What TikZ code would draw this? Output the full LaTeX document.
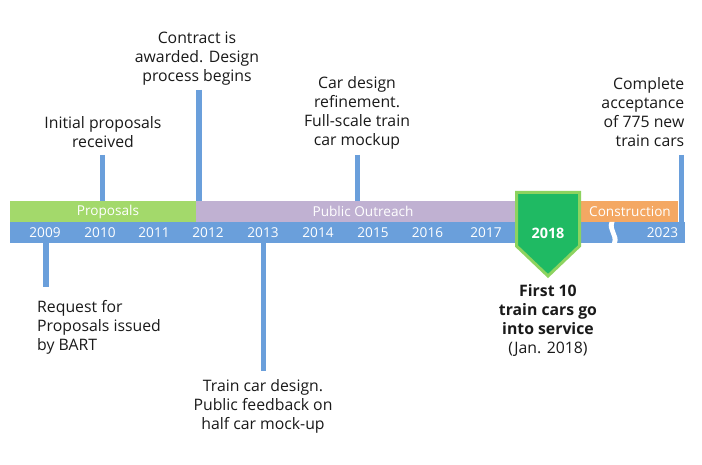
\documentclass[tikz,border=0pt]{standalone}
\usepackage{fontspec}
\setmainfont{Open Sans}
\definecolor{tlblue}{HTML}{6A9FDB}
\definecolor{tlgreen}{HTML}{A3D96B}
\definecolor{tlpurple}{HTML}{C0B1D2}
\definecolor{tlorange}{HTML}{F4A863}
\definecolor{pentfill}{HTML}{1FBA63}
\definecolor{pentedge}{HTML}{8DD35F}
\definecolor{txt}{HTML}{1A1A1A}
\begin{document}
\begin{tikzpicture}[x=1pt,y=-1pt,
  tickline/.style={draw=tlblue,line width=5.5pt},
  evlabel/.style={font=\fontsize{15.8}{19}\selectfont,text=txt,inner sep=0pt},
  barlabel/.style={font=\fontsize{13.6}{15}\selectfont,text=white,inner sep=0pt},
  yearlabel/.style={font=\fontsize{13.6}{15}\selectfont,text=white,inner sep=0pt}]
\useasboundingbox[fill=white] (0,0) rectangle (702,465);
% bars
\fill[tlgreen] (10,201) rectangle (196,222);
\fill[tlpurple] (196,201) rectangle (515,222);
\fill[tlorange] (581,201) rectangle (678,222);
\fill[tlblue] (10,222) rectangle (685,243);
% break mark
\fill[white] (609.5,222) .. controls (606,230) and (615,235) .. (612,243)
  -- (617,243) .. controls (620,235) and (611,230) .. (614.5,222) -- cycle;
% bar labels
\node[barlabel] (lprop) at (108,211.5) {Proposals};
\node[barlabel] (lpub) at (363,211.5) {Public Outreach};
\node[barlabel] (lcons) at (630,211.5) {Construction};
% years
\node[yearlabel] (y09) at (45,233) {2009};
\node[yearlabel] (y10) at (100,233) {2010};
\node[yearlabel] (y11) at (154,233) {2011};
\node[yearlabel] (y12) at (208,233) {2012};
\node[yearlabel] (y13) at (263,233) {2013};
\node[yearlabel] (y14) at (318,233) {2014};
\node[yearlabel] (y15) at (373,233) {2015};
\node[yearlabel] (y16) at (427.5,233) {2016};
\node[yearlabel] (y17) at (486,233) {2017};
\node[yearlabel] (y23) at (662.5,233) {2023};
% pentagon
\draw[draw=pentedge,fill=pentfill,line width=3pt,line join=miter]
  (516.5,192.5) -- (579.5,192.5) -- (579.5,246) -- (548,276) -- (516.5,246) -- cycle;
\node[font=\fontsize{14.4}{15}\selectfont\bfseries,text=white,inner sep=0pt] (y18) at (548,233) {2018};
% tick endpoints
\coordinate (t10a) at (102.5,155); \coordinate (t10b) at (102.5,201);
\coordinate (t12a) at (199,90);    \coordinate (t12b) at (199,201);
\coordinate (t15a) at (357.5,155); \coordinate (t15b) at (357.5,201);
\coordinate (t23a) at (681.5,155); \coordinate (t23b) at (681.5,243);
\coordinate (t09a) at (46,243);    \coordinate (t09b) at (46,287);
\coordinate (t13a) at (263.5,243); \coordinate (t13b) at (263.5,371);
\draw[tickline] (t10a) -- (t10b);
\draw[tickline] (t12a) -- (t12b);
\draw[tickline] (t15a) -- (t15b);
\draw[tickline] (t23a) -- (t23b);
\draw[tickline] (t09a) -- (t09b);
\draw[tickline] (t13a) -- (t13b);
% event labels
\node[evlabel,align=center] (e10) at (103,132) {Initial proposals\\received};
\node[evlabel,align=center] (e12) at (197,58.5) {Contract is\\awarded. Design\\process begins};
\node[evlabel,align=center] (e15) at (357,112.5) {Car design\\refinement.\\Full-scale train\\car mockup};
\node[evlabel,align=right,anchor=east] (e23) at (684.5,112.5) {Complete\\acceptance\\of 775 new\\train cars};
\node[evlabel,align=left,anchor=west] (e09) at (37,327) {Request for\\Proposals issued\\by BART};
\node[evlabel,align=center] (e13) at (263,406.5) {Train car design.\\Public feedback on\\half car mock-up};
\node[evlabel,align=center] (e18) at (548,320.5) {\bfseries First 10\\\bfseries train cars go\\\bfseries into service\\(Jan. 2018)};
\end{tikzpicture}
\end{document}
